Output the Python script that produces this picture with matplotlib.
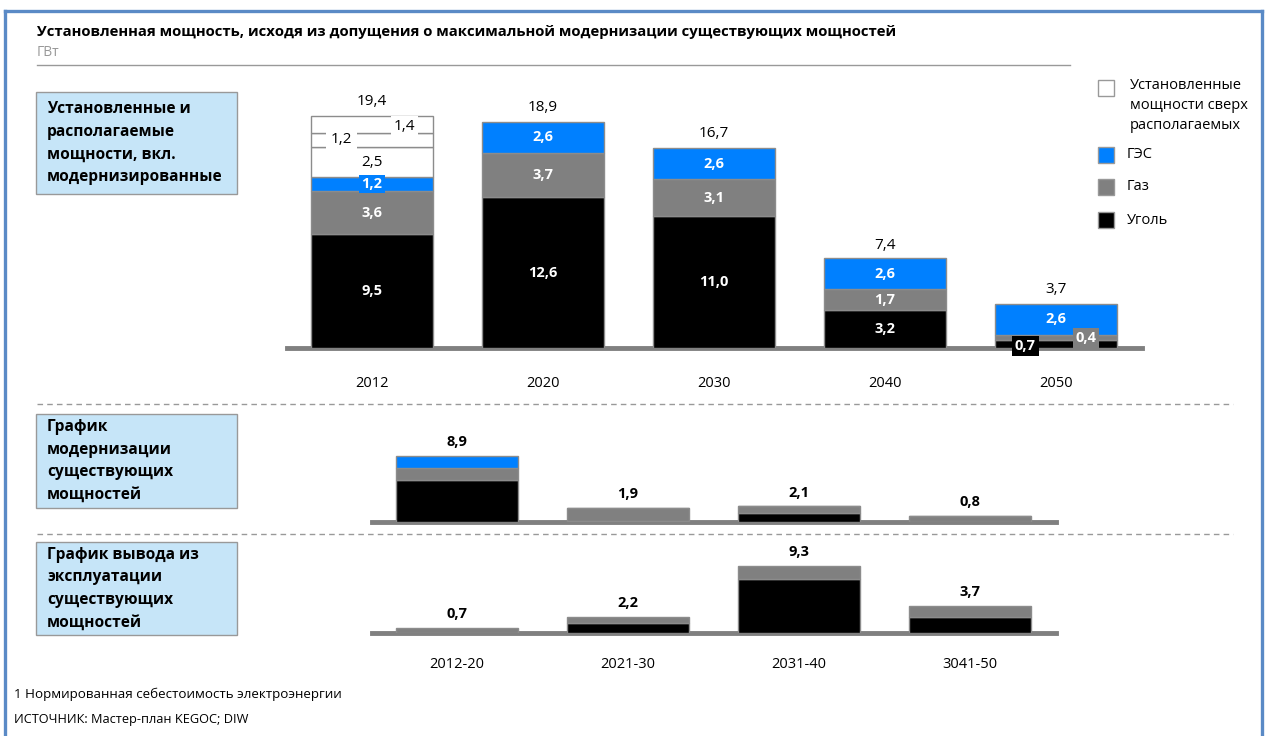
import numpy as np
import matplotlib.pyplot as plt
from matplotlib.patches import Rectangle
from matplotlib.lines import Line2D

plt.rcParams['font.family'] = ['Open Sans', 'Noto Sans', 'DejaVu Sans']

# ---------------- data ----------------
years = ['2012', '2020', '2030', '2040', '2050']
coal = [9.5, 12.6, 11.0, 3.2, 0.7]
gas = [3.6, 3.7, 3.1, 1.7, 0.4]
hydro = [1.2, 2.6, 2.6, 2.6, 2.6]
extra_2012 = [2.5, 1.2, 1.4]          # installed above available, 2012 only
totals = [19.4, 18.9, 16.7, 7.4, 3.7]

periods = ['2012-20', '2021-30', '2031-40', '3041-50']
mod_coal = [5.7, 0.2, 1.2, 0.0]
mod_gas = [1.6, 1.7, 0.9, 0.8]
mod_hydro = [1.6, 0.0, 0.0, 0.0]
mod_totals = [8.9, 1.9, 2.1, 0.8]

ret_coal = [0.0, 1.4, 7.5, 2.2]
ret_gas = [0.7, 0.8, 1.8, 1.5]
ret_totals = [0.7, 2.2, 9.3, 3.7]

C_COAL = '#000000'
C_GAS = '#808080'
C_HYDRO = '#0080ff'
C_EDGE = '#8c8c8c'
C_BOX = '#c6e5f8'
C_FRAME = '#5a8ac6'

W, H = 1267, 736


def fmt(v):
    return f'{v:.1f}'.replace('.', ',')


def rect(l, t, r, b):
    return [l / W, 1 - b / H, (r - l) / W, (b - t) / H]


def fx(x):
    return x / W


def fy(y):
    return 1 - y / H


fig = plt.figure(figsize=(W / 100, H / 100), dpi=100)

BW = 0.713


def setup(ax, labels, pad):
    for s in ax.spines.values():
        s.set_visible(False)
    ax.set_yticks([])
    ax.set_xticks(range(len(labels)))
    ax.set_xticklabels(labels, fontsize=10.5)
    ax.tick_params(axis='x', length=0, pad=pad)
    ax.axhline(0, color=C_GAS, lw=3.5, clip_on=False, zorder=1)


# ---------------- top panel ----------------
ax1 = fig.add_axes(rect(286.5, 80, 1141.5, 348))
x = np.arange(len(years))
b1 = np.array(coal)
b2 = b1 + np.array(gas)
b3 = b2 + np.array(hydro)
ax1.bar(x, coal, BW, color=C_COAL, edgecolor=C_EDGE, lw=1, zorder=2)
ax1.bar(x, gas, BW, bottom=b1, color=C_GAS, edgecolor=C_EDGE, lw=1, zorder=2)
ax1.bar(x, hydro, BW, bottom=b2, color=C_HYDRO, edgecolor=C_EDGE, lw=1, zorder=2)
bot = b3[0]
for v in extra_2012:
    ax1.bar(0, v, BW, bottom=bot, color='white', edgecolor=C_EDGE, lw=1, zorder=2)
    bot += v
ax1.set_xlim(-0.5, 4.5)
ax1.set_ylim(0, 22.4)
setup(ax1, years, 20)

lab = dict(ha='center', va='center', color='white', fontsize=10.5, fontweight='bold', zorder=5)
for i in range(4):
    ax1.text(i, coal[i] / 2, fmt(coal[i]), **lab)
    ax1.text(i, b1[i] + gas[i] / 2, fmt(gas[i]), **lab)
    if i == 0:
        ax1.text(i, b2[i] + hydro[i] / 2, fmt(hydro[i]),
                 bbox=dict(boxstyle='square,pad=0.15', fc=C_HYDRO, ec='none'), **lab)
    else:
        ax1.text(i, b2[i] + hydro[i] / 2, fmt(hydro[i]), **lab)
# 2050 small values
ax1.text(4 - 0.18, 0.15, fmt(coal[4]),
         bbox=dict(boxstyle='square,pad=0.2', fc=C_COAL, ec='none'), **lab)
ax1.text(4 + 0.175, 0.84, fmt(gas[4]),
         bbox=dict(boxstyle='square,pad=0.2', fc=C_GAS, ec='none'), **lab)
ax1.text(4, b2[4] + hydro[4] / 2, fmt(hydro[4]), **lab)

# 2012 extra segments
wl = dict(ha='center', va='center', color='black', fontsize=11, zorder=5)
e0 = b3[0]
ax1.text(0, e0 + extra_2012[0] / 2 - 0.05, fmt(extra_2012[0]), **wl)
ax1.text(-0.18, e0 + extra_2012[0] + extra_2012[1] / 2, fmt(extra_2012[1]),
         bbox=dict(boxstyle='square,pad=0.3', fc='white', ec='none'), **wl)
ax1.text(0.19, e0 + extra_2012[0] + extra_2012[1] + extra_2012[2] / 2 - 0.15,
         fmt(extra_2012[2]),
         bbox=dict(boxstyle='square,pad=0.2', fc='white', ec='none'), **wl)

for i, t in enumerate(totals):
    ax1.annotate(fmt(t), (i, t), xytext=(0, 5), textcoords='offset points',
                 ha='center', va='bottom', fontsize=11)

# ---------------- modernisation panel ----------------
ax2 = fig.add_axes(rect(371.5, 425, 1055.5, 522))
x2 = np.arange(len(periods))
m1 = np.array(mod_coal)
m2 = m1 + np.array(mod_gas)
ax2.bar(x2, mod_coal, BW, color=C_COAL, edgecolor=C_EDGE, lw=1, zorder=2)
ax2.bar(x2, mod_gas, BW, bottom=m1, color=C_GAS, edgecolor=C_EDGE, lw=1, zorder=2)
ax2.bar(x2, mod_hydro, BW, bottom=m2, color=C_HYDRO, edgecolor=C_EDGE, lw=1, zorder=2)
ax2.set_xlim(-0.5, 3.5)
ax2.set_ylim(0, 13.1)
setup(ax2, ['', '', '', ''], 0)
for i, t in enumerate(mod_totals):
    ax2.annotate(fmt(t), (i, t), xytext=(0, 5), textcoords='offset points',
                 ha='center', va='bottom', fontsize=10.5, fontweight='bold')

# ---------------- retirement panel ----------------
ax3 = fig.add_axes(rect(371.5, 540, 1055.5, 633))
r1 = np.array(ret_coal)
ax3.bar(x2, ret_coal, BW, color=C_COAL, edgecolor=C_EDGE, lw=1, zorder=2)
ax3.bar(x2, ret_gas, BW, bottom=r1, color=C_GAS, edgecolor=C_EDGE, lw=1, zorder=2)
ax3.set_xlim(-0.5, 3.5)
ax3.set_ylim(0, 12.83)
setup(ax3, periods, 17)
for i, t in enumerate(ret_totals):
    ax3.annotate(fmt(t), (i, t), xytext=(0, 5), textcoords='offset points',
                 ha='center', va='bottom', fontsize=10.5, fontweight='bold')

# ---------------- frame, titles, boxes ----------------
fig.add_artist(Line2D([fx(5), fx(5)], [fy(11), fy(740)], color=C_FRAME, lw=2.4))
fig.add_artist(Line2D([fx(5), fx(1262)], [fy(11), fy(11)], color=C_FRAME, lw=2.4))
fig.add_artist(Line2D([fx(1262), fx(1262)], [fy(11), fy(740)], color=C_FRAME, lw=2.4))

fig.text(fx(37), fy(32), 'Установленная мощность, исходя из допущения о максимальной '
         'модернизации существующих мощностей', fontsize=10.7, fontweight='bold',
         va='center', ha='left')
fig.text(fx(37), fy(52), 'ГВт', fontsize=10, color='#999999', va='center')
fig.add_artist(Line2D([fx(37), fx(1070)], [fy(65), fy(65)], color='#999999', lw=1))

for yy in (404, 534):
    fig.add_artist(Line2D([fx(37), fx(1233)], [fy(yy), fy(yy)], color='#999999',
                          lw=1, linestyle=(0, (4, 3))))

boxes = [
    (92, 194, 'Установленные и\nрасполагаемые\nмощности, вкл.\nмодернизированные'),
    (414, 508, 'График\nмодернизации\nсуществующих\nмощностей'),
    (542, 635, 'График вывода из\nэксплуатации\nсуществующих\nмощностей'),
]
for t, b, txt in boxes:
    fig.add_artist(Rectangle((fx(36), fy(b)), (237 - 36) / W, (b - t) / H,
                             transform=fig.transFigure, fc=C_BOX, ec='#999999', lw=1))
    fig.text(fx(47), fy((t + b) / 2), txt, fontsize=11.2, fontweight='bold',
             va='center', ha='left', linespacing=1.55)

# legend
leg = [
    (88, 'white', 'Установленные\nмощности сверх\nрасполагаемых', 1130),
    (155, C_HYDRO, 'ГЭС', 1127),
    (187, C_GAS, 'Газ', 1127),
    (220, C_COAL, 'Уголь', 1127),
]
for yc, col, txt, tx in leg:
    fig.add_artist(Rectangle((fx(1098), fy(yc + 8)), 16 / W, 16 / H,
                             transform=fig.transFigure, fc=col, ec='#999999', lw=1))
    if '\n' in txt:
        fig.text(fx(tx), fy(yc - 10), txt, fontsize=10.5, va='top', ha='left',
                 linespacing=1.45)
    else:
        fig.text(fx(tx), fy(yc), txt, fontsize=10.5, va='center', ha='left')

fig.text(fx(14), fy(694), '1 Нормированная себестоимость электроэнергии',
         fontsize=9.6, va='center')
fig.text(fx(14), fy(719), 'ИСТОЧНИК: Мастер-план KEGOC; DIW', fontsize=9.2, va='center')

fig.savefig('out.png', dpi=100)
